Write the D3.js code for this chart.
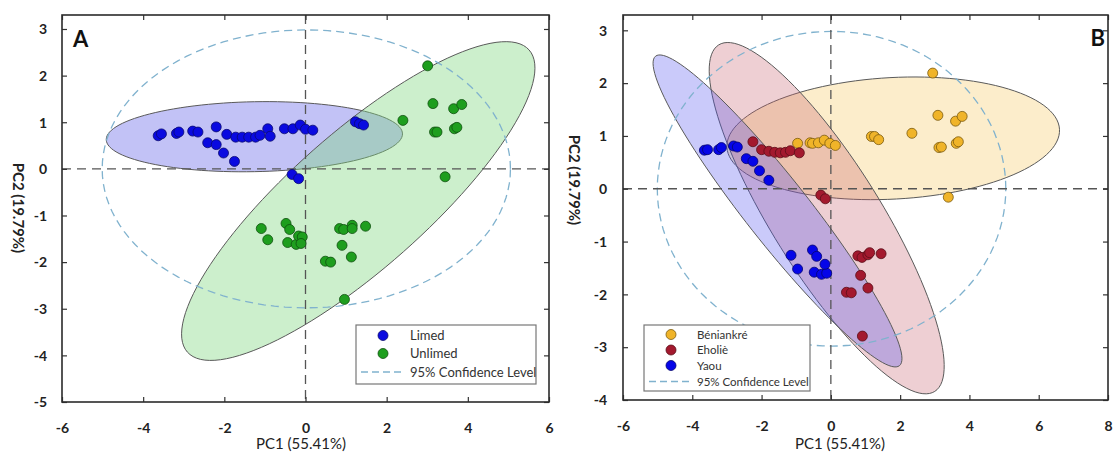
<!DOCTYPE html>
<html>
<head>
<meta charset="utf-8">
<script src="https://cdn.jsdelivr.net/npm/d3@7"></script>
<style>
  body { margin: 0; background: #fff; }
  svg { display: block; font-family: Lato, "Open Sans", sans-serif; }
  .axis text { font-family: Lato, "Open Sans", sans-serif; font-weight: bold; font-size: 14px; fill: #222; }
  .axis line { stroke: #333; stroke-width: 1.2; }
  .axis path { display: none; }
</style>
</head>
<body>
<svg id="chart" width="1115" height="459"></svg>
<script>
// ---- panel A : lime treatment ----
var limed = [[-3.63,0.71],[-3.55,0.75],[-3.18,0.76],[-3.12,0.79],[-2.78,0.81],[-2.65,0.79],
  [-2.20,0.90],[-1.94,0.74],[-1.72,0.68],[-1.56,0.68],[-1.40,0.68],[-1.23,0.68],[-1.12,0.72],
  [-0.93,0.86],[-0.87,0.70],[-2.41,0.56],[-2.20,0.52],[-2.02,0.34],[-1.75,0.16],[-0.52,0.86],
  [-0.31,0.86],[-0.13,0.94],[0.00,0.85],[0.18,0.83],[1.23,1.01],[1.33,0.97],[1.43,0.94],
  [-0.33,-0.12],[-0.17,-0.21]];
var unlimed = [[3.01,2.21],[2.40,1.04],[3.14,1.40],[3.65,1.29],[3.85,1.38],[3.18,0.79],
  [3.24,0.79],[3.67,0.86],[3.73,0.89],[3.44,-0.17],[-1.09,-1.28],[-0.93,-1.52],[-0.48,-1.17],
  [-0.39,-1.30],[-0.44,-1.58],[-0.23,-1.62],[-0.17,-1.44],[-0.08,-1.46],[-0.11,-1.60],
  [0.84,-1.28],[0.94,-1.30],[1.15,-1.21],[1.15,-1.28],[1.48,-1.23],[0.90,-1.64],[1.13,-1.89],
  [0.49,-1.98],[0.62,-2.00],[0.96,-2.80]];

// ---- panel B : sites ----
var beniankre = [[-0.96,0.86],[-0.60,0.87],[-0.53,0.86],[-0.36,0.87],[-0.19,0.92],[-0.03,0.86],
  [0.13,0.82],[1.17,0.99],[1.26,0.99],[1.38,0.93],[2.34,1.05],[2.94,2.19],[3.09,1.39],[3.60,1.28],
  [3.79,1.37],[3.12,0.78],[3.19,0.79],[3.62,0.86],[3.68,0.89],[3.39,-0.16]];
var eholie = [[-2.25,0.89],[-2.00,0.74],[-1.79,0.71],[-1.62,0.69],[-1.46,0.68],[-1.31,0.69],
  [-1.17,0.72],[-0.91,0.68],[-0.29,-0.12],[-0.16,-0.19],[0.78,-1.27],[0.90,-1.30],[1.07,-1.25],
  [1.12,-1.21],[1.45,-1.23],[0.86,-1.64],[1.07,-1.88],[0.45,-1.96],[0.59,-1.97],[0.91,-2.79]];
var yaou = [[-3.65,0.73],[-3.56,0.74],[-3.24,0.74],[-3.16,0.78],[-2.81,0.81],[-2.70,0.79],
  [-2.44,0.57],[-2.25,0.52],[-2.06,0.34],[-1.79,0.16],[-1.15,-1.26],[-0.96,-1.52],[-0.53,-1.16],
  [-0.41,-1.28],[-0.48,-1.58],[-0.27,-1.62],[-0.12,-1.60],[-0.17,-1.43]];

var xTicksA = [-6, -4, -2, 0, 2, 4, 6];
var yTicksA = [-5, -4, -3, -2, -1, 0, 1, 2, 3];
var xTicksB = [-6, -4, -2, 0, 2, 4, 6, 8];
var yTicksB = [-4, -3, -2, -1, 0, 1, 2, 3];

// ellipses: [centre, semi-axis u, semi-axis v] in PC units
var confEllipse = [[0.02, 0], [5.03, 0], [0, 2.98]];
var limedEllipse = [[-1.26, 0.69], [3.65, 0.06], [0, 0.75]];
var unlimedEllipse = [[1.30, -0.69], [4.21, 3.24], [1.11, -1.09]];
var beniankreEllipse = [[1.80, 0.955], [4.80, 0.171], [0.094, -1.149]];
var eholieEllipse = [[-0.12, -0.557], [3.12, -3.28], [-1.33, -0.553]];
var yaouEllipse = [[-1.54, -0.42], [3.52, -2.93], [-0.718, -0.375]];

var svg = d3.select("#chart");
svg.append("rect").attr("width", 1115).attr("height", 459).attr("fill", "#fff");

function ellipsePoints(e) {
  var pts = [];
  for (var i = 0; i < 120; i++) {
    var t = i / 120 * 2 * Math.PI;
    pts.push([e[0][0] + e[1][0] * Math.cos(t) + e[2][0] * Math.sin(t),
              e[0][1] + e[1][1] * Math.cos(t) + e[2][1] * Math.sin(t)]);
  }
  return pts;
}

// plain hyphen for negatives, like the original figure
var tickText = function(d) { return String(d); };

function drawPanel(p) {
  var x = d3.scaleLinear().domain(p.xDomain).range([p.left, p.right]);
  var y = d3.scaleLinear().domain(p.yDomain).range([p.bottom, p.top]);
  var g = svg.append("g");

  var clipId = "clip" + p.letter;
  g.append("clipPath").attr("id", clipId)
    .append("rect").attr("x", p.left).attr("y", p.top)
    .attr("width", p.right - p.left).attr("height", p.bottom - p.top);

  var plot = g.append("g").attr("clip-path", "url(#" + clipId + ")");
  var line = d3.line().x(function(d) { return x(d[0]); }).y(function(d) { return y(d[1]); })
    .curve(d3.curveLinearClosed);

  // group ellipses
  p.groups.forEach(function(s) {
    plot.append("path")
      .attr("d", line(ellipsePoints(s.ellipse)))
      .attr("fill", s.area)
      .attr("fill-opacity", s.areaOpacity)
      .attr("stroke", "#5a5a5a")
      .attr("stroke-width", 1);
  });

  // 95% confidence ellipse
  plot.append("path")
    .attr("d", line(ellipsePoints(confEllipse)))
    .attr("fill", "none")
    .attr("stroke", "#80b2ce")
    .attr("stroke-width", 1.3)
    .attr("stroke-dasharray", "8,5");

  // zero lines
  plot.append("line")
    .attr("x1", x(0)).attr("x2", x(0)).attr("y1", p.top).attr("y2", p.bottom)
    .attr("stroke", "#555").attr("stroke-width", 1.3).attr("stroke-dasharray", "9,6");
  plot.append("line")
    .attr("x1", p.left).attr("x2", p.right).attr("y1", y(0)).attr("y2", y(0))
    .attr("stroke", "#555").attr("stroke-width", 1.3).attr("stroke-dasharray", "9,6");

  // points
  p.groups.forEach(function(s) {
    plot.append("g").selectAll("circle")
      .data(s.points)
      .enter().append("circle")
      .attr("cx", function(d) { return x(d[0]); })
      .attr("cy", function(d) { return y(d[1]); })
      .attr("r", 5)
      .attr("fill", s.color)
      .attr("stroke", s.edge)
      .attr("stroke-width", 0.8);
  });

  // axes, ticks pointing inward on all sides
  var bottomAxis = g.append("g").attr("class", "axis")
    .attr("transform", "translate(0," + p.bottom + ")")
    .call(d3.axisBottom(x).tickValues(p.xTicks).tickSize(-5).tickSizeOuter(0).tickPadding(21).tickFormat(tickText));
  bottomAxis.selectAll("text").attr("dy", "0.71em");
  var leftAxis = g.append("g").attr("class", "axis")
    .attr("transform", "translate(" + p.left + ",0)")
    .call(d3.axisLeft(y).tickValues(p.yTicks).tickSize(-5).tickSizeOuter(0).tickPadding(p.yPad).tickFormat(tickText));
  leftAxis.selectAll("text").attr("dy", "0.34em");
  g.append("g").attr("class", "axis")
    .attr("transform", "translate(0," + p.top + ")")
    .call(d3.axisTop(x).tickValues(p.xTicks).tickSize(-5).tickSizeOuter(0).tickFormat(""));
  g.append("g").attr("class", "axis")
    .attr("transform", "translate(" + p.right + ",0)")
    .call(d3.axisRight(y).tickValues(p.yTicks).tickSize(-5).tickSizeOuter(0).tickFormat(""));

  // frame
  g.append("rect")
    .attr("x", p.left).attr("y", p.top)
    .attr("width", p.right - p.left).attr("height", p.bottom - p.top)
    .attr("fill", "none").attr("stroke", "#2b2b2b").attr("stroke-width", 1.6);

  // axis titles
  g.append("text")
    .attr("x", p.xTitle[0]).attr("y", p.xTitle[1])
    .attr("text-anchor", "middle")
    .style("font-size", "15px").style("fill", "#222")
    .text("PC1 (55.41%)");
  g.append("text")
    .attr("transform", "translate(" + p.yTitle[0] + "," + p.yTitle[1] + ") rotate(90)")
    .attr("text-anchor", "middle")
    .attr("dy", "0.35em")
    .style("font-size", "15px").style("font-weight", "bold").style("fill", "#222")
    .text("PC2 (19.79%)");

  // panel letter
  g.append("text")
    .attr("x", p.letterPos[0]).attr("y", p.letterPos[1])
    .attr("text-anchor", p.letterAnchor)
    .style("font-size", "22px").style("font-weight", "bold").style("fill", "#111")
    .text(p.letter);

  // legend
  var L = p.legend;
  var lg = g.append("g");
  lg.append("rect")
    .attr("x", L.box[0]).attr("y", L.box[1]).attr("width", L.box[2]).attr("height", L.box[3])
    .attr("fill", "#fff").attr("stroke", "#777").attr("stroke-width", 1.2);
  p.groups.forEach(function(s, i) {
    var ry = L.rows[i];
    lg.append("circle").attr("cx", L.markerX).attr("cy", ry).attr("r", 5)
      .attr("fill", s.color).attr("stroke", s.edge).attr("stroke-width", 0.8);
    lg.append("text").attr("x", L.textX).attr("y", ry).attr("dy", "0.35em")
      .style("font-size", L.fontSize).style("fill", "#333").text(s.name);
  });
  var lastRow = L.rows[p.groups.length];
  lg.append("line")
    .attr("x1", L.dash[0]).attr("x2", L.dash[1]).attr("y1", lastRow).attr("y2", lastRow)
    .attr("stroke", "#80b2ce").attr("stroke-width", 1.3).attr("stroke-dasharray", "7,4");
  lg.append("text").attr("x", L.textX).attr("y", lastRow).attr("dy", "0.35em")
    .style("font-size", L.fontSize).style("fill", "#333").text("95% Confidence Level");
}

drawPanel({
  letter: "A", letterPos: [73, 47], letterAnchor: "start",
  left: 62, right: 549, top: 15, bottom: 402,
  xDomain: [-6, 6], yDomain: [-5, 3.3],
  xTicks: xTicksA, yTicks: yTicksA, yPad: 15,
  xTitle: [301, 449], yTitle: [18, 208],
  groups: [
    {name: "Limed", points: limed, ellipse: limedEllipse, color: "#0a0ae0", edge: "#0a0a70", area: "#5050e6", areaOpacity: 0.35},
    {name: "Unlimed", points: unlimed, ellipse: unlimedEllipse, color: "#1e9e1e", edge: "#0f4f0f", area: "#7fd67f", areaOpacity: 0.4}
  ],
  legend: {box: [356, 325, 180, 59], markerX: 383, textX: 410, rows: [335.5, 353.5, 372], dash: [361, 404], fontSize: "13px"}
});

drawPanel({
  letter: "B", letterPos: [1105, 46], letterAnchor: "end",
  left: 623, right: 1108, top: 15, bottom: 400,
  xDomain: [-6, 8], yDomain: [-4, 3.29],
  xTicks: xTicksB, yTicks: yTicksB, yPad: 16,
  xTitle: [840, 449], yTitle: [574, 180],
  groups: [
    {name: "Béniankré", points: beniankre, ellipse: beniankreEllipse, color: "#f0b429", edge: "#7a5a10", area: "#f5c452", areaOpacity: 0.3},
    {name: "Eholiè", points: eholie, ellipse: eholieEllipse, color: "#a3192e", edge: "#5a0e18", area: "#c8606e", areaOpacity: 0.3},
    {name: "Yaou", points: yaou, ellipse: yaouEllipse, color: "#0505e8", edge: "#05056e", area: "#5050f0", areaOpacity: 0.3}
  ],
  legend: {box: [644, 325, 166, 66], markerX: 671, textX: 697, rows: [334.5, 350, 365.5, 381.5], dash: [649, 691], fontSize: "11.5px"}
});
</script>
</body>
</html>
